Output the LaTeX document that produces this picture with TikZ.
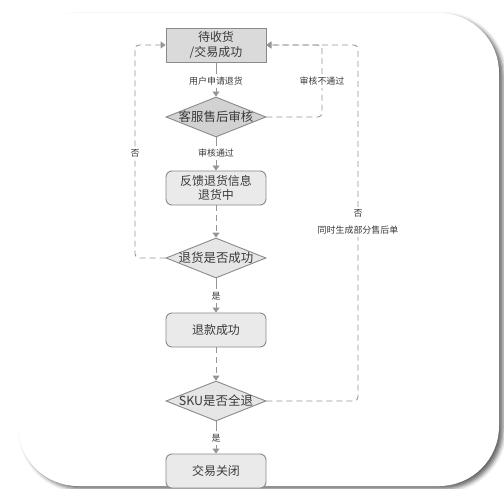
\documentclass[tikz,border=0pt]{standalone}
\usepackage{fontspec}
\setmainfont{Noto Sans CJK SC}
\usetikzlibrary{shapes.geometric,arrows.meta,shadows.blur}
\definecolor{edgegray}{HTML}{8A8A8A}
\definecolor{ink}{HTML}{3A3A3A}
\definecolor{topfill}{HTML}{DADADA}
\definecolor{boxfill}{HTML}{EAEAEA}
\definecolor{diadark}{HTML}{D2D2D2}
\definecolor{dialight}{HTML}{E6E6E6}
\definecolor{linkgray}{HTML}{959595}
\begin{document}
\begin{tikzpicture}[x=1bp,y=-1bp,
  every node/.style={text=ink},
  topbox/.style={draw=edgegray, fill=topfill, line width=0.9bp,
    minimum width=100bp, minimum height=34bp, inner sep=0pt,
    align=center, font=\fontsize{12}{14.5}\selectfont},
  roundbox/.style={topbox, fill=boxfill, rounded corners=6bp},
  dia/.style={draw=edgegray, fill=dialight, line width=0.9bp, diamond,
    minimum width=100bp, minimum height=40bp, inner sep=0pt,
    label={[font=\fontsize{12.5}{14}\selectfont, text=ink]center:#1}},
  tag/.style={font=\fontsize{9}{11}\selectfont, inner sep=2.5bp, align=center},
  link/.style={draw=linkgray, line width=0.9bp},
  linkdash/.style={link, dash pattern=on 6bp off 4bp, rounded corners=4bp},
  tip/.style={-{Triangle[width=7bp,length=5bp]}},
]
% card background
\useasboundingbox (0,0) rectangle (504,489);
\fill[white, blur shadow={shadow xshift=4bp, shadow yshift=-3bp,
      shadow blur radius=4bp, shadow opacity=60}, rounded corners=60bp]
  (18,13) rectangle (499,486);

% flow nodes
\node[topbox] (t1) at (216,45) {待收货\\/交易成功};
\node[dia=客服售后审核, fill=diadark] (d1) at (216,117) {};
\node[roundbox] (b2) at (216,188) {反馈退货信息\\退货中};
\node[dia=退货是否成功] (d2) at (216,258) {};
\node[roundbox] (b3) at (216,330) {退款成功};
\node[dia=SKU是否全退] (d3) at (216,401) {};
\node[roundbox] (b4) at (216,471) {交易关闭};

% connector labels
\node[tag] (l1) at (216,81) {用户申请退货};
\node[tag] (l2) at (216,153) {审核通过};
\node[tag] (l3) at (216,296) {是};
\node[tag] (l4) at (216,438) {是};
\node[tag] (no1) at (135,153) {否};
\node[tag] (r1) at (322,81) {审核不通过};
\node[tag] (r2) at (358,222) {否\\[6bp]同时生成部分售后单};

% main line
\draw[link] (t1) -- (l1);
\draw[link, tip] (l1) -- (d1);
\draw[link] (d1) -- (l2);
\draw[link, tip] (l2) -- (b2);
\draw[linkdash, tip] (b2) -- (d2);
\draw[link] (d2) -- (l3);
\draw[link, tip] (l3) -- (b3);
\draw[linkdash, tip] (b3) -- (d3);
\draw[link] (d3) -- (l4);
\draw[link, tip] (l4) -- (b4);

% return loops
\draw[linkdash] (d2.west) -| (no1);
\draw[linkdash, tip] (no1) |- (t1.west);
\draw[linkdash] (d1.east) -| (r1);
\draw[linkdash, tip] (r1) |- (t1.east);
\draw[linkdash] (d3.east) -| (r2);
\draw[linkdash, tip] (r2) |- (t1.east);
\end{tikzpicture}
\end{document}
